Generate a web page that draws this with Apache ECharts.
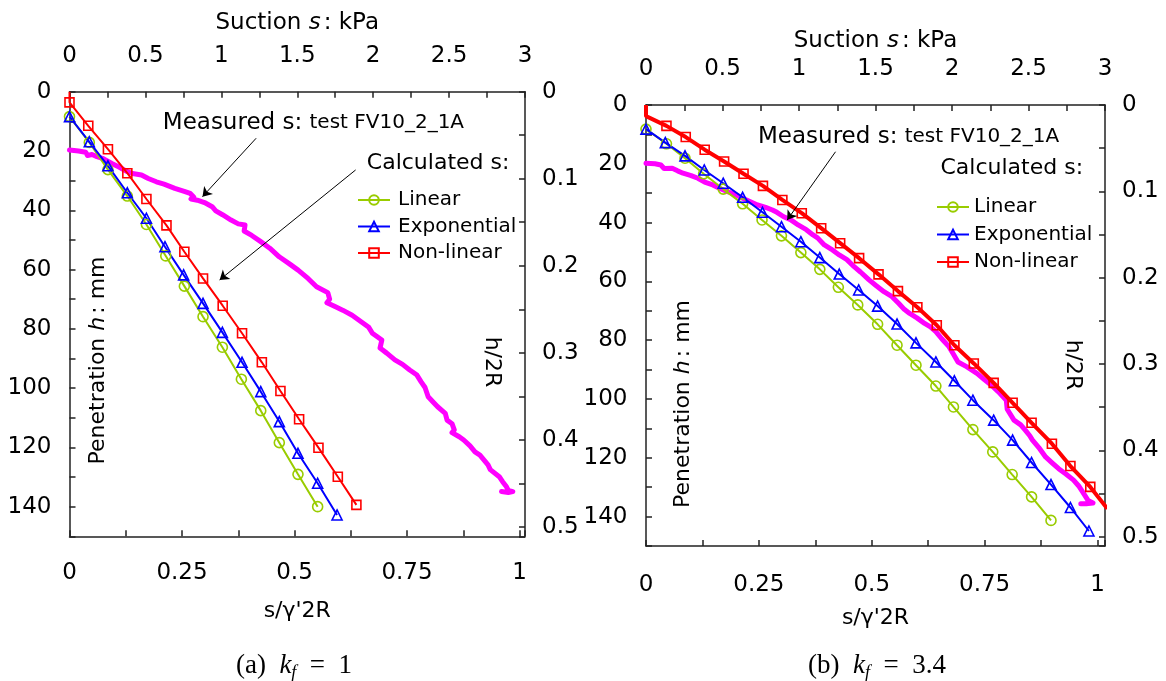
<!DOCTYPE html>
<html><head><meta charset="utf-8">
<script src="https://cdn.jsdelivr.net/npm/echarts@6/dist/echarts.min.js"></script>
<style>html,body{margin:0;padding:0;background:#fff}#c{width:1166px;height:681px}</style>
</head><body><div id="c"></div>
<script>
// ---------- data (x = s/γ'2R, y = penetration h in mm) ----------
const seriesNames = ['Linear', 'Exponential', 'Non-linear'];
const panelCaptions = ['(a)', '(b)'];
const kfValues = ['1', '3.4'];
const kpaPerUnitA = 2.964;   // s (kPa) corresponding to s/γ'2R = 1, panel a
const kpaPerUnitB = 2.951;   // panel b
const twoR = 293.6;          // mm, for h/2R axis
const hMax = 150;

const linearA = [[0,8.4],[0.044,17.1],[0.0854,26.3],[0.1285,35.2],[0.1709,44.8],[0.2139,55.4],[0.2552,65.6],[0.2967,75.9],[0.3397,86.2],[0.3819,97.0],[0.425,107.6],[0.4662,118.4],[0.5077,129.1],[0.5514,140.0]];
const exponentialA = [[0,8.4],[0.044,16.9],[0.0854,25.0],[0.1285,34.1],[0.1709,42.7],[0.2121,52.3],[0.2536,61.8],[0.2967,71.4],[0.3397,81.2],[0.3834,91.3],[0.425,101.2],[0.4662,111.3],[0.5077,122.0],[0.5514,132.1],[0.5945,142.8]];
const nonlinearA = [[0,0],[0,3.6],[0.0417,11.5],[0.0854,19.4],[0.1285,27.5],[0.1709,36.2],[0.2155,45.1],[0.2552,54.0],[0.2967,63.0],[0.3404,72.2],[0.3834,81.5],[0.4274,91.3],[0.4687,101.0],[0.5102,110.5],[0.5532,120.1],[0.5962,129.9],[0.6375,139.4]];
const measuredA = [[0,19.7],[0.02,20.0],[0.036,20.4],[0.04,21.5],[0.05,21.2],[0.061,21.9],[0.075,22.6],[0.094,24.2],[0.11,25.4],[0.127,26.9],[0.14,27.6],[0.16,28.1],[0.175,29.3],[0.193,30.4],[0.21,31.2],[0.234,32.6],[0.255,33.6],[0.268,34.3],[0.276,35.5],[0.27,36.2],[0.284,36.6],[0.30,37.4],[0.317,38.8],[0.325,40.2],[0.34,41.5],[0.359,43.3],[0.375,44.6],[0.39,45.0],[0.388,47.0],[0.405,48.5],[0.425,50.6],[0.445,52.8],[0.466,55.7],[0.488,58.0],[0.508,60.2],[0.53,63.0],[0.549,65.8],[0.574,67.8],[0.578,70.0],[0.572,71.2],[0.59,72.5],[0.607,73.7],[0.628,75.4],[0.648,77.6],[0.665,79.5],[0.673,81.5],[0.694,83.8],[0.69,86.5],[0.705,88.2],[0.723,90.5],[0.74,92.0],[0.756,93.9],[0.772,95.6],[0.781,97.8],[0.79,99.8],[0.797,102.9],[0.81,105.0],[0.818,106.3],[0.835,108.5],[0.839,110.8],[0.85,112.0],[0.855,114.1],[0.85,115.0],[0.866,116.4],[0.876,117.5],[0.89,119.5],[0.901,121.5],[0.912,122.6],[0.93,125.9],[0.935,127.5],[0.955,129.9],[0.962,131.5],[0.971,133.3],[0.975,134.5],[0.985,134.9],[0.975,135.2],[0.96,134.9]];

const linearB = [[0,8.2],[0.0453,13.2],[0.0864,18.1],[0.1276,23.4],[0.171,28.6],[0.214,33.6],[0.257,39.1],[0.3,44.5],[0.343,50.2],[0.385,55.9],[0.426,62.0],[0.469,68.0],[0.513,74.6],[0.556,81.7],[0.598,88.5],[0.642,95.6],[0.681,102.7],[0.724,110.4],[0.768,118.0],[0.811,125.7],[0.854,133.3],[0.897,141.3]];
const exponentialB = [[0,8.2],[0.0428,12.8],[0.0864,17.3],[0.129,22.1],[0.171,26.6],[0.214,31.4],[0.258,36.5],[0.3,41.4],[0.343,46.5],[0.385,51.9],[0.428,57.5],[0.471,62.9],[0.513,68.4],[0.556,74.5],[0.598,80.9],[0.642,87.4],[0.683,93.8],[0.724,100.4],[0.77,107.2],[0.812,114.0],[0.854,121.6],[0.897,129.1],[0.94,136.9],[0.981,144.9]];
const nonlinearB = [[0,0],[0,3.8],[0.0453,7.1],[0.088,10.9],[0.13,15.2],[0.173,19.2],[0.216,23.4],[0.259,27.5],[0.302,32.3],[0.345,36.8],[0.388,41.9],[0.43,47.0],[0.472,52.1],[0.515,57.6],[0.558,63.3],[0.601,68.8],[0.644,74.9],[0.683,81.7],[0.726,87.9],[0.77,94.5],[0.812,101.3],[0.854,108.1],[0.899,115.2],[0.94,122.8],[0.984,129.9],[1.022,137.3]];
const measuredB = [[0,19.8],[0.02,20.0],[0.033,20.4],[0.04,21.6],[0.058,21.5],[0.07,22.4],[0.082,23.2],[0.1,24.0],[0.115,24.9],[0.13,26.2],[0.148,27.2],[0.165,28.5],[0.181,29.5],[0.2,30.6],[0.214,31.7],[0.23,32.8],[0.247,34.0],[0.265,34.8],[0.28,35.7],[0.29,36.5],[0.305,38.0],[0.32,39.0],[0.337,40.8],[0.355,42.4],[0.37,44.2],[0.38,45.2],[0.395,47.6],[0.41,49.0],[0.428,51.0],[0.445,52.6],[0.461,55.0],[0.475,56.8],[0.494,59.5],[0.51,61.5],[0.527,63.5],[0.545,65.2],[0.56,67.5],[0.572,69.5],[0.584,70.9],[0.6,72.4],[0.617,74.3],[0.63,75.5],[0.642,77.1],[0.655,79.5],[0.671,82.2],[0.68,84.5],[0.691,87.4],[0.71,89.0],[0.733,91.3],[0.75,93.5],[0.765,95.3],[0.78,97.5],[0.798,100.4],[0.8,103.5],[0.815,107.2],[0.83,108.8],[0.84,110.6],[0.85,112.5],[0.856,114.0],[0.87,116.5],[0.885,119.7],[0.9,121.8],[0.914,123.7],[0.93,125.5],[0.947,127.6],[0.958,129.5],[0.967,131.6],[0.979,134.5],[0.99,135.4],[0.975,135.6],[0.963,135.6]];

// annotation arrows (start -> end) in data coordinates
const arrowsA = [[[0.4147,15.7],[0.2955,35.4]], [[0.6358,26.4],[0.3336,63.5]]];
const arrowsB = [[[0.4198,15.9],[0.3128,39.1]]];

// ---------- chart ----------
const FONT = 'DejaVu Sans';
const AX = '#222';
const GREEN = '#99cc00', BLUE = '#0000ff', RED = '#ff0000', MAG = '#ff00ff';

function isMult(v, step) { const m = v / step; return Math.abs(m - Math.round(m)) < 1e-6; }
function fmt(v) { return String(parseFloat(v.toFixed(3))); }
function labFmt(step) { return v => isMult(v, step) ? fmt(v) : ''; }

function baseAxis(gi) {
  return {
    gridIndex: gi, type: 'value',
    axisLine: { show: true, onZero: false, lineStyle: { color: AX, width: 1.5 } },
    axisTick: { show: true, inside: true, length: 6, lineStyle: { color: AX, width: 1.5 } },
    splitLine: { show: false },
    axisLabel: { fontFamily: FONT, fontSize: 23, color: '#000' }
  };
}

const grids = [
  { left: 69.5, top: 91.7, width: 455.5, height: 444.6, outerBoundsMode: 'none', containLabel: false },
  { left: 646, top: 105, width: 459, height: 441, outerBoundsMode: 'none', containLabel: false }
];
const kpaUnit = [kpaPerUnitA, kpaPerUnitB];
const lay = [
  { topMargin: 24, topGap: 57, botMargin: 25, botGap: 64, leftMargin: 18, rightMargin: 17 },
  { topMargin: 24.5, topGap: 52, botMargin: 27.5, botGap: 61, leftMargin: 18.5, rightMargin: 17 }
];

const xAxes = [], yAxes = [];
for (let gi = 0; gi < 2; gi++) {
  const L = lay[gi];
  const xb = baseAxis(gi);
  Object.assign(xb, { position: 'bottom', min: 0, max: 3 / kpaUnit[gi], interval: 0.125,
    name: "s/γ'2R", nameLocation: 'middle', nameGap: L.botGap,
    nameTextStyle: { fontFamily: FONT, fontSize: 22, color: '#000' } });
  xb.axisLabel = Object.assign({}, xb.axisLabel, { margin: L.botMargin, formatter: labFmt(0.25) });
  const xt = baseAxis(gi);
  Object.assign(xt, { position: 'top', min: 0, max: 3, interval: 0.25,
    name: '{a|Suction }{i|s}{a|: kPa}', nameLocation: 'middle', nameGap: L.topGap,
    nameTextStyle: { fontFamily: FONT, fontSize: 23, color: '#000',
      rich: { a: { fontFamily: FONT, fontSize: 23, color: '#000' },
              i: { fontFamily: FONT, fontSize: 23, color: '#000', fontStyle: 'italic', padding: [0, 3, 0, 0] } } } });
  xt.axisLabel = Object.assign({}, xt.axisLabel, { margin: L.topMargin, formatter: labFmt(0.5) });
  const yl = baseAxis(gi);
  Object.assign(yl, { position: 'left', inverse: true, min: 0, max: hMax, interval: 10 });
  yl.axisLabel = Object.assign({}, yl.axisLabel, { margin: L.leftMargin, formatter: labFmt(20) });
  const yr = baseAxis(gi);
  Object.assign(yr, { position: 'right', inverse: true, min: 0, max: hMax / twoR, interval: 0.05 });
  yr.axisLabel = Object.assign({}, yr.axisLabel, { margin: L.rightMargin, formatter: labFmt(0.1) });
  xAxes.push(xb, xt); yAxes.push(yl, yr);
}

function calcSeries(name, gi, data, color, symbol, size, width, hideIdx) {
  return {
    name, type: 'line', xAxisIndex: gi * 2, yAxisIndex: gi * 2, z: 3,
    clip: false, silent: true,
    data: data.map((p, i) => hideIdx.includes(i) ? { value: p, symbol: 'none' } : p),
    symbol, symbolSize: size, showAllSymbol: true,
    lineStyle: { color, width },
    itemStyle: { color: 'rgba(255,255,255,0)', borderColor: color, borderWidth: 1.6 },
    emphasis: { disabled: true }
  };
}
function measuredSeries(gi, data, arrows) {
  return {
    name: 'Measured', type: 'line', xAxisIndex: gi * 2, yAxisIndex: gi * 2, z: 2,
    data, symbol: 'none', silent: true,
    lineStyle: { color: MAG, width: 5, join: 'round', cap: 'round' },
    itemStyle: { color: MAG },
    emphasis: { disabled: true },
    markLine: {
      silent: true, symbol: ['none', 'arrow'], symbolSize: 9, animation: false,
      label: { show: false },
      lineStyle: { color: '#000', width: 1, type: 'solid', opacity: 1 },
      itemStyle: { color: '#000' },
      emphasis: { disabled: true },
      data: arrows.map(a => [{ coord: a[0] }, { coord: a[1] }])
    }
  };
}

const series = [
  measuredSeries(0, measuredA, arrowsA),
  calcSeries('Linear', 0, linearA, GREEN, 'circle', 10, 2, []),
  calcSeries('Exponential', 0, exponentialA, BLUE, 'triangle', 10, 2, []),
  calcSeries('Non-linear', 0, nonlinearA, RED, 'rect', 9, 2, [0]),
  measuredSeries(1, measuredB, arrowsB),
  calcSeries('Linear', 1, linearB, GREEN, 'circle', 10, 2, []),
  calcSeries('Exponential', 1, exponentialB, BLUE, 'triangle', 10, 2, []),
  calcSeries('Non-linear', 1, nonlinearB, RED, 'rect', 9, 4, [0, 1, nonlinearB.length - 1])
];

function legendFor(left, top, gap, textPad) {
  return {
    orient: 'vertical', left, top, itemWidth: 32, itemHeight: 12, itemGap: gap,
    data: seriesNames, selectedMode: false,
    lineStyle: { width: 2 },
    textStyle: { fontFamily: FONT, fontSize: 20, color: '#000', padding: [0, 0, 0, textPad] }
  };
}

const rt = (fs, extra) => Object.assign({ fontFamily: FONT, fontSize: fs, fill: '#000' }, extra || {});
function txt(x, y, text, rich, align, rotation) {
  return { type: 'text', x, y, rotation: rotation || 0, silent: true,
    style: { text, rich, align: align || 'left', verticalAlign: 'middle',
             textAlign: align || 'left', textVerticalAlign: 'middle', fill: '#000' } };
}
const serif = 'Liberation Serif';
function caption(x, y, lab, kf) {
  return txt(x, y, '{r|' + lab + '  }{i|k}{s|f}{r|  =  ' + kf + '}', {
    r: { fontFamily: serif, fontSize: 27, fill: '#000', lineHeight: 32 },
    i: { fontFamily: serif, fontSize: 27, fill: '#000', fontStyle: 'italic', lineHeight: 32 },
    s: { fontFamily: serif, fontSize: 18, fill: '#000', fontStyle: 'italic', lineHeight: 18, verticalAlign: 'bottom' }
  }, 'center');
}
const measRich = { a: rt(23), b: rt(20) };
const penRich = { a: rt(22), i: rt(22, { fontStyle: 'italic', padding: [0, 3, 0, 0] }) };

const graphics = [
  txt(162.8, 123, '{a|Measured s: }{b|test FV10_2_1A}', measRich),
  txt(366.8, 163, '{a|Calculated s:}', { a: rt(22) }),
  txt(98.7, 360.5, '{a|Penetration }{i|h}{a|: mm}', penRich, 'center', Math.PI / 2),
  txt(491.6, 362, '{a|h/2R}', { a: rt(22) }, 'center', -Math.PI / 2),
  caption(294, 666, panelCaptions[0], kfValues[0]),
  txt(758, 137, '{a|Measured s: }{b|test FV10_2_1A}', measRich),
  txt(940.5, 168, '{a|Calculated s:}', { a: rt(22) }),
  txt(683.6, 404, '{a|Penetration }{i|h}{a|: mm}', penRich, 'center', Math.PI / 2),
  txt(1072.8, 365, '{a|h/2R}', { a: rt(22) }, 'center', -Math.PI / 2),
  caption(877, 666, panelCaptions[1], kfValues[1])
];

const chart = echarts.init(document.getElementById('c'), null, { renderer: 'canvas' });
chart.setOption({
  animation: false,
  backgroundColor: '#fff',
  textStyle: { fontFamily: FONT },
  grid: grids,
  xAxis: xAxes,
  yAxis: yAxes,
  legend: [legendFor(352, 185, 6.5, 3), legendFor(931, 192, 7.5, 0)],
  series,
  graphic: graphics
});
</script>
</body></html>
